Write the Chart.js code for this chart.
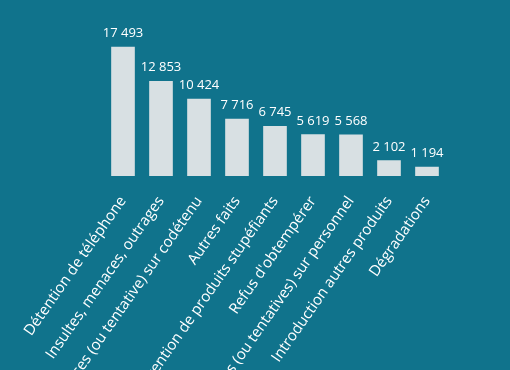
<!DOCTYPE html>
<html>
<head>
<meta charset="utf-8">
<script src="https://cdn.jsdelivr.net/npm/chart.js@4/dist/chart.umd.min.js"></script>
<style>
  html, body { margin: 0; padding: 0; background: #10738c; overflow: hidden; }
  #wrap { width: 510px; height: 460px; position: relative; }
</style>
</head>
<body>
<div id="wrap"><canvas id="c"></canvas></div>
<script>
const categories = [
  "Détention de téléphone",
  "Insultes, menaces, outrages",
  "Violences (ou tentative) sur codétenu",
  "Autres faits",
  "Détention de produits stupéfiants",
  "Refus d'obtempérer",
  "Violences (ou tentatives) sur personnel",
  "Introduction autres produits",
  "Dégradations"
];
const values = [17493, 12853, 10424, 7716, 6745, 5619, 5568, 2102, 1194];
const valueLabels = ["17 493", "12 853", "10 424", "7 716", "6 745", "5 619", "5 568", "2 102", "1 194"];

const valueLabelPlugin = {
  id: 'valueLabels',
  afterDatasetsDraw(chart) {
    const ctx = chart.ctx;
    const meta = chart.getDatasetMeta(0);
    ctx.save();
    ctx.fillStyle = '#ffffff';
    ctx.font = '13px "Open Sans"';
    ctx.textAlign = 'center';
    ctx.textBaseline = 'bottom';
    meta.data.forEach((bar, i) => {
      ctx.fillText(valueLabels[i], bar.x, bar.y - 7);
    });
    ctx.restore();
  }
};

new Chart(document.getElementById('c'), {
  type: 'bar',
  data: {
    labels: categories,
    datasets: [{
      data: values,
      backgroundColor: '#d8e0e3',
      borderWidth: 0,
      barThickness: 23
    }]
  },
  options: {
    responsive: true,
    maintainAspectRatio: false,
    animation: false,
    layout: { padding: { left: 104, right: 64, top: 28.5, bottom: 0 } },
    plugins: { legend: { display: false }, tooltip: { enabled: false } },
    scales: {
      y: { display: false, min: 0, max: 20000 },
      x: {
        grid: { display: false },
        border: { display: false },
        ticks: {
          color: '#ffffff',
          font: { family: '"Open Sans"', size: 15 },
          minRotation: 55,
          maxRotation: 55,
          autoSkip: false,
          padding: 9
        },
        afterFit(axis) { axis.height = 460 - 176; }
      }
    }
  },
  plugins: [valueLabelPlugin]
});
</script>
</body>
</html>
